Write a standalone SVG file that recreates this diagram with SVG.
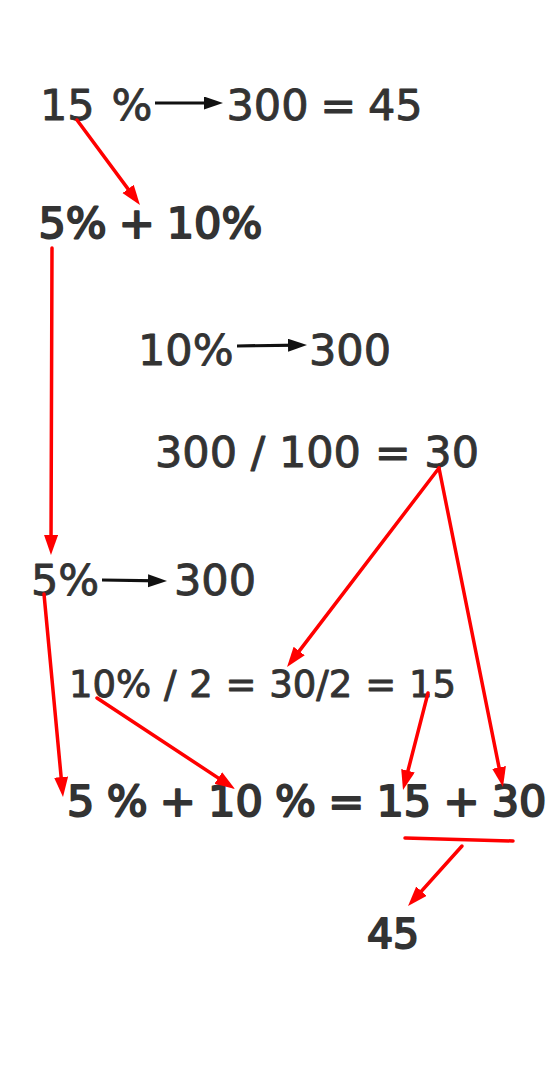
<svg xmlns="http://www.w3.org/2000/svg" width="557" height="1071" viewBox="0 0 557 1071">
<style>
.t{font-family:"DejaVu Sans",Verdana,sans-serif;fill:#333333;stroke:#333333;stroke-width:0.9;stroke-linejoin:round;font-size:43px;font-weight:400}
.b{stroke-width:2}
.r{stroke:#ff0000;stroke-width:3.5;fill:none;stroke-linecap:round}
.k{stroke:#111111;stroke-width:3.2;fill:none}
</style>
<defs>
<marker id="ra" markerUnits="userSpaceOnUse" markerWidth="22" markerHeight="16" refX="12" refY="7" orient="auto"><path d="M0,0 L20,7 L0,14 z" fill="#ff0000"/></marker>
<marker id="ka" markerUnits="userSpaceOnUse" markerWidth="22" markerHeight="14" refX="11" refY="6.5" orient="auto"><path d="M0,0 L19,6.5 L0,13 z" fill="#111111"/></marker>
</defs>
<rect width="557" height="1071" fill="#ffffff"/>
<g id="n1"><text class="t" x="40" y="120" word-spacing="3">15 %</text></g>
<g id="n2"><text class="t" x="226.5" y="120" word-spacing="-2">300 = 45</text></g>
<g id="n3"><text class="t b" x="38.5" y="238" word-spacing="-1.7">5% + 10%</text></g>
<g id="n4"><text class="t" x="138" y="365">10%</text></g>
<g id="n5"><text class="t" x="309" y="365">300</text></g>
<g id="n6"><text class="t" x="155" y="467">300 / 100 = 30</text></g>
<g id="n7"><text class="t" x="31" y="595">5%</text></g>
<g id="n8"><text class="t" x="174" y="595">300</text></g>
<g id="n9"><text class="t" x="69" y="697" style="font-size:37px" word-spacing="1">10% / 2 = 30/2 = 15</text></g>
<g id="n10"><text class="t b" x="67" y="816" word-spacing="-1.4">5 % + 10 % = 15 + 30</text></g>
<g id="n11"><text class="t b" x="367" y="948" style="font-size:41px">45</text></g>
<g id="connectors">
<line class="k" x1="155" y1="103" x2="215" y2="103" marker-end="url(#ka)"/>
<line class="k" x1="237" y1="346" x2="299" y2="345.1" marker-end="url(#ka)"/>
<line class="k" x1="102" y1="580" x2="159" y2="580.9" marker-end="url(#ka)"/>
<line class="r" x1="77" y1="120" x2="135.2" y2="198.6" marker-end="url(#ra)"/>
<line class="r" x1="52" y1="248" x2="51" y2="547" marker-end="url(#ra)"/>
<line class="r" x1="44" y1="594" x2="62.25" y2="789" marker-end="url(#ra)"/>
<line class="r" x1="439" y1="468" x2="291.9" y2="660.6" marker-end="url(#ra)"/>
<line class="r" x1="439" y1="468" x2="501.4" y2="779.2" marker-end="url(#ra)"/>
<line class="r" x1="428" y1="693" x2="405" y2="782.3" marker-end="url(#ra)"/>
<line class="r" x1="97" y1="698" x2="228.3" y2="784.6" marker-end="url(#ra)"/>
<line class="r" x1="405" y1="838" x2="513" y2="841"/>
<line class="r" x1="462" y1="846" x2="413.4" y2="900.1" marker-end="url(#ra)"/>
</g>
</svg>
